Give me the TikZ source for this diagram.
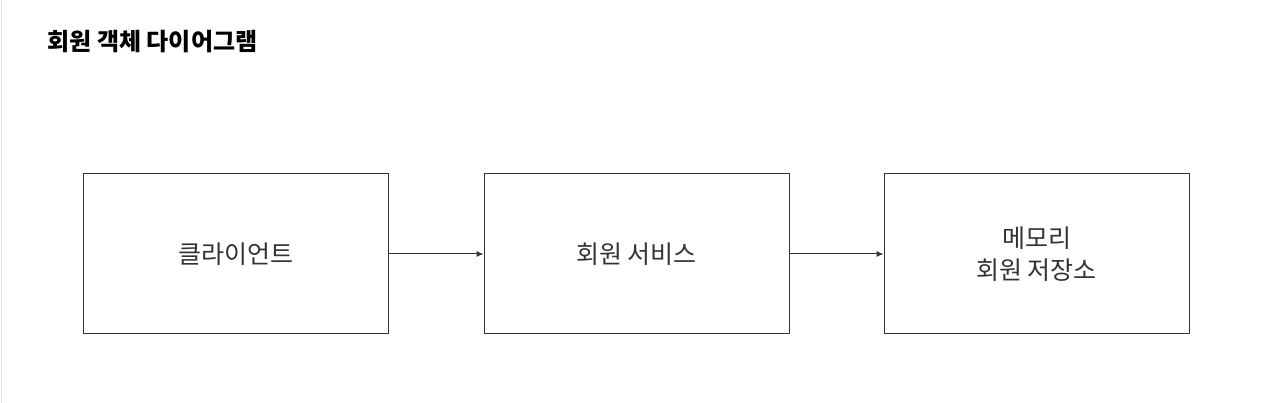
\documentclass[tikz,border=0pt]{standalone}
\usepackage{fontspec}
\newfontfamily\cjk{Noto Sans CJK KR}
\usetikzlibrary{positioning,arrows.meta}
\definecolor{edge}{HTML}{333333}
\definecolor{ink}{HTML}{333333}
\tikzset{
	box/.style={draw=edge, line width=1pt, minimum width=305pt, minimum height=160pt, inner sep=0pt, align=center, text=ink, font=\cjk\fontsize{25}{32}\selectfont},
	flow/.style={draw=edge, line width=1pt, -{Latex[length=7pt,width=6pt]}}
}
\begin{document}
\begin{tikzpicture}[x=1pt,y=-1pt]
	\useasboundingbox (0,0) rectangle (1267,403);
	\fill[white] (0,0) rectangle (1267,403);
	\draw[black!10, line width=1pt] (1,0) -- (1,403);
	\node[anchor=west, font=\cjk\bfseries\fontsize{24}{28}\selectfont] (title) at (44,42) {회원 객체 다이어그램};
	\node[box] (client) at (235.5,254) {클라이언트};
	\node[box, right=95pt of client] (service) {회원 서비스};
	\node[box, right=94pt of service] (repo) {메모리\\회원 저장소};
	\draw[flow] (client) -- (service);
	\draw[flow] (service) -- (repo);
\end{tikzpicture}
\end{document}
